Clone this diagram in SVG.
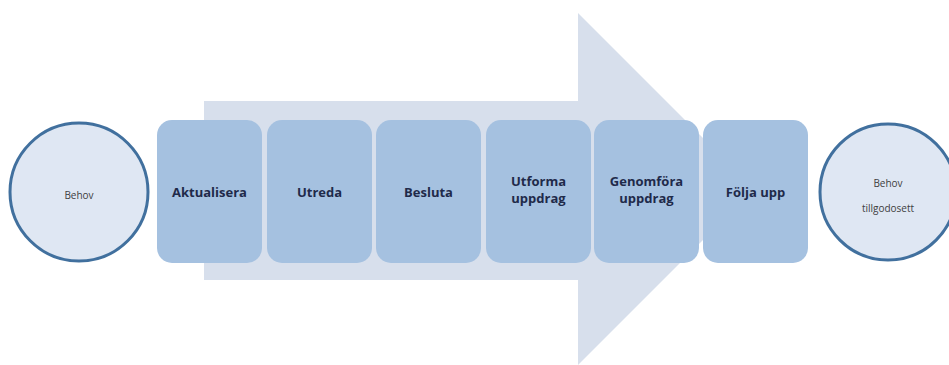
<svg xmlns="http://www.w3.org/2000/svg" width="949" height="365" viewBox="0 0 949 365">
<style>
.box{fill:#a5c1e0}
.circ{fill:#dfe7f3;stroke:#41709e;stroke-width:3}
.lbl{font-family:"Open Sans","Liberation Sans",sans-serif;font-size:13px;font-weight:bold;fill:#1f2a4a;text-anchor:middle}
.sm{font-family:"Open Sans","Liberation Sans",sans-serif;font-size:10px;fill:#404040;text-anchor:middle}
</style>
<rect width="949" height="365" fill="#ffffff"/>
<polygon id="arrow" points="204,101 578,101 578,13 754,189 578,365 578,280 204,280" fill="#d7dfec"/>
<g id="connectors"></g>
<g id="behov"><circle class="circ" cx="79" cy="192" r="69"/><text class="sm" x="79" y="199">Behov</text></g>
<g id="aktualisera"><rect class="box" x="157" y="120" width="105" height="143" rx="15"/><text class="lbl" x="209.5" y="197">Aktualisera</text></g>
<g id="utreda"><rect class="box" x="267" y="120" width="105" height="143" rx="15"/><text class="lbl" x="319.5" y="197">Utreda</text></g>
<g id="besluta"><rect class="box" x="376" y="120" width="105" height="143" rx="15"/><text class="lbl" x="428.5" y="197">Besluta</text></g>
<g id="utforma"><rect class="box" x="486" y="120" width="105" height="143" rx="15"/><text class="lbl" x="538.5" y="186">Utforma</text><text class="lbl" x="538.5" y="203">uppdrag</text></g>
<g id="genomfora"><rect class="box" x="594" y="120" width="105" height="143" rx="15"/><text class="lbl" x="646.5" y="186">Genomföra</text><text class="lbl" x="646.5" y="203">uppdrag</text></g>
<g id="folja"><rect class="box" x="703" y="120" width="105" height="143" rx="15"/><text class="lbl" x="755.5" y="197">Följa upp</text></g>
<g id="tillgodosett"><circle class="circ" cx="888" cy="192" r="68"/><text class="sm" x="888" y="187">Behov</text><text class="sm" x="888" y="212">tillgodosett</text></g>
</svg>
